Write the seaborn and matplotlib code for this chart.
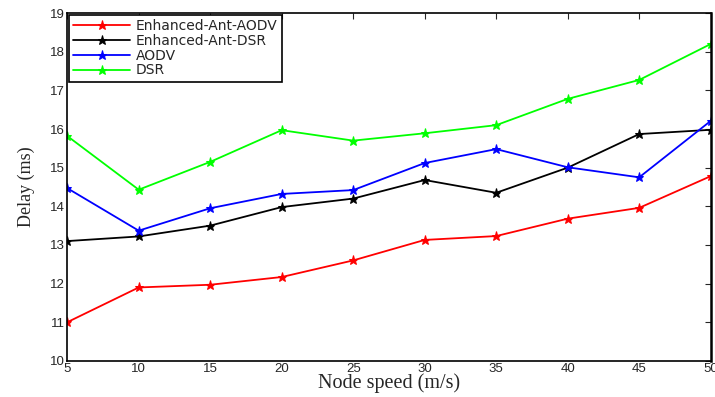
import numpy as np
import pandas as pd
import matplotlib
matplotlib.use('Agg')
import matplotlib.pyplot as plt
import seaborn as sns

# data
node_speed = [5, 10, 15, 20, 25, 30, 35, 40, 45, 50]
ant_aodv = [11.0, 11.9, 11.97, 12.17, 12.6, 13.13, 13.23, 13.68, 13.96, 14.78]
ant_dsr = [13.1, 13.22, 13.5, 13.98, 14.2, 14.68, 14.35, 15.0, 15.87, 15.98]
aodv = [14.47, 13.37, 13.95, 14.32, 14.42, 15.12, 15.48, 15.01, 14.75, 16.21]
dsr = [15.82, 14.43, 15.15, 15.97, 15.7, 15.89, 16.1, 16.78, 17.27, 18.2]

series_names = ['Enhanced-Ant-AODV', 'Enhanced-Ant-DSR', 'AODV', 'DSR']
series_vals = [ant_aodv, ant_dsr, aodv, dsr]
colors = ['#ff0000', '#000000', '#0000ff', '#00ff00']

sns.set_style('white')
plt.rcParams['font.family'] = ['Liberation Sans', 'DejaVu Sans']

fig = plt.figure(figsize=(7.15, 3.97), dpi=100)
ax = fig.add_axes([0.094, 0.091, 0.9, 0.876])

for name, vals, c in zip(series_names, series_vals, colors):
    sns.lineplot(x=node_speed, y=vals, color=c, marker='*', markersize=6.5,
                 markeredgecolor=c, linewidth=1.3, label=name, ax=ax)

ax.set_xlim(5, 50)
ax.set_ylim(10, 19)
ax.set_xticks(node_speed)
ax.set_yticks(range(10, 20))
ax.tick_params(direction='in', length=4, width=0.8, labelsize=9.5,
               top=True, right=True, pad=1.5)
for s in ax.spines.values():
    s.set_visible(True)
    s.set_color('black')
    s.set_linewidth(1.2)
ax.spines['right'].set_linewidth(1.8)

ax.set_xlabel('Node speed (m/s)', family='Liberation Serif', fontsize=14.5, labelpad=-1)
ax.set_ylabel('Delay (ms)', family='Liberation Serif', fontsize=13, labelpad=11)

leg = ax.legend(loc='upper left', prop={'family': 'DejaVu Sans', 'size': 10},
                handlelength=4.1, handletextpad=0.4,
                borderaxespad=0.15, fancybox=False, framealpha=1, edgecolor='black',
                labelspacing=0.05, borderpad=0.3)
leg.get_frame().set_linewidth(1.2)

fig.savefig('out.png', dpi=100)
